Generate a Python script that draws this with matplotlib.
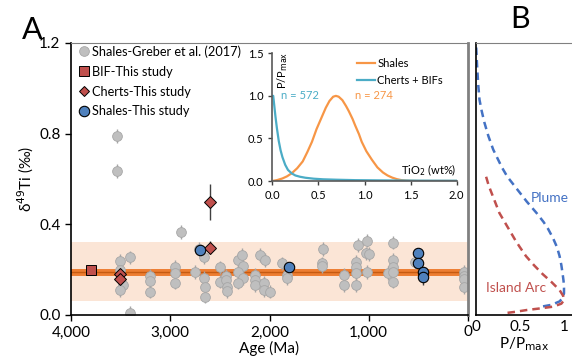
import numpy as np
import matplotlib.pyplot as plt
from matplotlib.lines import Line2D

plt.rcParams['font.family'] = ['Lato', 'DejaVu Sans']

# Greber et al. (2017) shales: age (Ma), d49Ti (permil)
grey_age = [3533, 3533, 3506, 3506, 3473, 3506, 3405, 3405, 3204, 3204, 3204,
            2952, 2952, 2952, 2894, 2750, 2710, 2659, 2659, 2652, 2652,
            2498, 2498, 2440, 2440, 2430, 2430, 2320, 2280, 2265, 2320, 2265, 2320,
            2145, 2145, 2145, 2095, 2044, 2060, 2054, 1994, 1876, 1826, 1826,
            1457, 1473, 1473, 1248, 1248, 1127, 1127, 1127, 1127, 1104,
            1020, 1027, 1000, 1020, 802, 751, 751, 751, 751, 751, 533,
            45, 45, 45, 45]
grey_d49 = [0.79, 0.635, 0.238, 0.20, 0.132, 0.11, 0.254, 0.01, 0.172, 0.151, 0.103,
            0.213, 0.187, 0.143, 0.367, 0.191, 0.29, 0.257, 0.165, 0.125, 0.081,
            0.21, 0.147, 0.172, 0.155, 0.125, 0.107, 0.243, 0.265, 0.216, 0.191, 0.162, 0.143,
            0.176, 0.154, 0.132, 0.265, 0.243, 0.143, 0.11, 0.103, 0.228, 0.176, 0.162,
            0.29, 0.228, 0.216, 0.176, 0.132, 0.235, 0.213, 0.184, 0.132, 0.309,
            0.328, 0.272, 0.27, 0.191, 0.184, 0.319, 0.243, 0.213, 0.191, 0.147, 0.235,
            0.191, 0.17, 0.157, 0.122]

# This study
bif_age = [3801]
bif_d49 = [0.20]
chert_age = [3506, 3506, 2599, 2599]
chert_d49 = [0.18, 0.16, 0.50, 0.297]
chert_err = [0.02, 0.02, 0.08, 0.03]
shale_age = [2700, 1800, 499, 499, 455, 455]
shale_d49 = [0.287, 0.21, 0.272, 0.231, 0.191, 0.169]
shale_err = [0.015, 0.02, 0.015, 0.015, 0.02, 0.035]

# average and 2SD band
mean_d49 = 0.19
band_lo, band_hi = 0.06, 0.32

# inset: TiO2 distributions
tio2_shale = [0.0, 0.05, 0.11, 0.16, 0.21, 0.27, 0.33, 0.38, 0.43, 0.48, 0.54, 0.58,
              0.62, 0.66, 0.69, 0.72, 0.76, 0.80, 0.83, 0.87, 0.90, 0.94, 0.97, 1.02,
              1.08, 1.14, 1.2, 1.25, 1.3, 1.35, 1.4, 1.45, 1.5, 1.6, 2.0]
p_shale = [0.0, 0.01, 0.03, 0.055, 0.09, 0.15, 0.23, 0.34, 0.46, 0.61, 0.76, 0.86,
           0.94, 0.99, 1.0, 0.99, 0.95, 0.88, 0.82, 0.73, 0.65, 0.55, 0.46, 0.35,
           0.25, 0.16, 0.10, 0.065, 0.04, 0.022, 0.01, 0.005, 0.002, 0.0, 0.0]
tio2_chert = [0.0, 0.01, 0.02, 0.035, 0.05, 0.07, 0.09, 0.11, 0.14, 0.17, 0.21, 0.25,
              0.3, 0.36, 0.45, 0.55, 0.7, 0.9, 1.2, 1.6, 2.0]
p_chert = [1.0, 1.0, 0.9, 0.75, 0.62, 0.47, 0.36, 0.28, 0.19, 0.13, 0.09, 0.065,
           0.05, 0.038, 0.027, 0.02, 0.015, 0.01, 0.007, 0.004, 0.003]

# panel B: model distributions (P/Pmax vs d49Ti)
plume_d49 = [1.18, 1.10, 1.02, 0.95, 0.90, 0.85, 0.79, 0.73, 0.69, 0.65, 0.61, 0.58,
             0.54, 0.50, 0.45, 0.41, 0.38, 0.34, 0.30, 0.26, 0.22, 0.18, 0.15, 0.12,
             0.096, 0.075, 0.06, 0.045, 0.035]
plume_p = [0.008, 0.018, 0.03, 0.045, 0.07, 0.10, 0.145, 0.20, 0.25, 0.30, 0.36, 0.42,
           0.50, 0.58, 0.69, 0.77, 0.82, 0.875, 0.92, 0.95, 0.97, 0.985, 0.995, 1.0,
           1.0, 0.985, 0.95, 0.86, 0.72]
arc_d49 = [0.61, 0.57, 0.53, 0.49, 0.45, 0.41, 0.37, 0.33, 0.30, 0.26, 0.22, 0.18,
           0.145, 0.11, 0.085, 0.065, 0.05, 0.037, 0.03, 0.022, 0.014, 0.007]
arc_p = [0.12, 0.15, 0.19, 0.23, 0.27, 0.33, 0.39, 0.45, 0.50, 0.57, 0.66, 0.76,
         0.86, 0.95, 0.99, 1.0, 0.97, 0.88, 0.75, 0.58, 0.45, 0.31]

fig = plt.figure(figsize=(5.72, 3.64), dpi=100)
ax = fig.add_axes([71/572, 49/364, 397/572, 272/364])
axb = fig.add_axes([475.5/572, 49/364, 96.5/572, 272/364])
axi = fig.add_axes([272.3/572, 183/364, 184.4/572, 127.7/364])

# --- panel A
ax.axhspan(band_lo, band_hi, color='#FBE5D6', zorder=0, lw=0)
ax.axhline(mean_d49, color='#ED7D31', lw=5, zorder=1)
ax.axhline(mean_d49, color='#C55A11', lw=1, zorder=1)

ax.errorbar(grey_age, grey_d49, yerr=0.03, fmt='o', ms=7, mfc='#BFBFBF', mec='#A6A6A6',
            mew=0.6, ecolor='#A6A6A6', elinewidth=1, capsize=0, zorder=2)
ax.errorbar(bif_age, bif_d49, yerr=0.02, fmt='s', ms=7, mfc='#C0504D', mec='black',
            mew=0.7, ecolor='#404040', elinewidth=1, capsize=0, zorder=3)
ax.errorbar(chert_age, chert_d49, yerr=chert_err, fmt='D', ms=6, mfc='#C0504D', mec='black',
            mew=0.7, ecolor='#404040', elinewidth=1, capsize=0, zorder=3)
ax.errorbar(shale_age, shale_d49, yerr=shale_err, fmt='o', ms=7.5, mfc='#4F81BD', mec='black',
            mew=0.8, ecolor='#404040', elinewidth=1, capsize=0, zorder=3)

ax.set_xlim(4000, 0)
ax.set_ylim(0, 1.2)
ax.set_xticks([4000, 3000, 2000, 1000, 0])
ax.set_xticklabels(['4,000', '3,000', '2,000', '1,000', '0'])
ax.set_yticks([0, 0.4, 0.8, 1.2])
ax.set_yticklabels(['0.0', '0.4', '0.8', '1.2'])
ax.tick_params(labelsize=11, length=4, width=1)
ax.set_xlabel('Age (Ma)', fontsize=11, labelpad=1)
ax.set_ylabel('δ$^{49}$Ti (‰)', fontsize=11, labelpad=2)
for s in ['top', 'right']:
    ax.spines[s].set_color('#808080')
ax.spines['right'].set_linewidth(2)
ax.spines['left'].set_linewidth(1.2)
ax.spines['bottom'].set_linewidth(1.2)

handles = [
    Line2D([], [], ls='', marker='o', ms=7, mfc='#BFBFBF', mec='#A6A6A6', mew=0.6),
    Line2D([], [], ls='', marker='s', ms=7, mfc='#C0504D', mec='black', mew=0.7),
    Line2D([], [], ls='', marker='D', ms=5.5, mfc='#C0504D', mec='black', mew=0.7),
    Line2D([], [], ls='', marker='o', ms=7.5, mfc='#4F81BD', mec='black', mew=0.8),
]
labels = ['Shales-Greber et al. (2017)', 'BIF-This study', 'Cherts-This study',
          'Shales-This study']
ax.legend(handles, labels, loc='upper left', bbox_to_anchor=(-0.005, 1.025), frameon=False,
          fontsize=9.2, handletextpad=0.1, handlelength=1.0, labelspacing=0.62,
          borderaxespad=0.3)

fig.text(22/572, 1 - 30/364, 'A', fontsize=22, va='center', ha='left')
fig.text(510/572, 1 - 19/364, 'B', fontsize=22, va='center', ha='left')

# --- inset
axi.plot(tio2_shale, p_shale, color='#F79646', lw=1.6, label='Shales')
axi.plot(tio2_chert, p_chert, color='#4BACC6', lw=1.6, label='Cherts + BIFs')
axi.set_xlim(0, 2)
axi.set_ylim(0, 1.5)
axi.set_xticks([0, 0.5, 1.0, 1.5, 2.0])
axi.set_xticklabels(['0.0', '0.5', '1.0', '1.5', '2.0'])
axi.set_yticks([0, 0.5, 1.0, 1.5])
axi.set_yticklabels(['0.0', '0.5', '1.0', '1.5'])
axi.tick_params(labelsize=8, length=3, width=1, colors='#404040', labelcolor='black')
axi.patch.set_alpha(0)
for s in ['top', 'right']:
    axi.spines[s].set_visible(False)
for s in ['left', 'bottom']:
    axi.spines[s].set_color('#595959')
    axi.spines[s].set_linewidth(1.2)
axi.legend(loc='upper right', bbox_to_anchor=(0.98, 1.04), frameon=False, fontsize=8,
           handlelength=1.6, handletextpad=0.2, labelspacing=0.5)
axi.text(0.11, 1.52, 'P/P$_{\\mathrm{max}}$', rotation=90, fontsize=8, ha='center', va='top')
axi.text(0.09, 1.0, 'n = 572', color='#4BACC6', fontsize=8, va='center')
axi.text(0.90, 1.0, 'n = 274', color='#F79646', fontsize=8, va='center')
axi.text(1.40, 0.13, 'TiO$_2$ (wt%)', fontsize=8, va='center')

# --- panel B
axb.plot(plume_p, plume_d49, color='#4472C4', lw=1.8, ls=(0, (3, 2)))
axb.plot(arc_p, arc_d49, color='#C0504D', lw=1.8, ls=(0, (3, 2)))
axb.set_xlim(0, 96.5/88.5)
axb.set_ylim(0, 1.2)
axb.set_yticks([])
axb.set_xticks([0, 0.5, 1])
axb.set_xticklabels(['0', '0.5', '1'])
axb.tick_params(labelsize=11, length=0)
axb.set_xlabel('P/P$_{\\mathrm{max}}$', fontsize=11, labelpad=1)
axb.spines['right'].set_visible(False)
axb.spines['top'].set_color('#808080')
axb.spines['left'].set_linewidth(1.2)
axb.spines['bottom'].set_linewidth(1.2)
axb.text(0.62, 0.50, 'Plume', color='#4472C4', fontsize=10)
axb.text(0.12, 0.10, 'Island Arc', color='#C0504D', fontsize=10)

fig.savefig('out.png', dpi=100)
